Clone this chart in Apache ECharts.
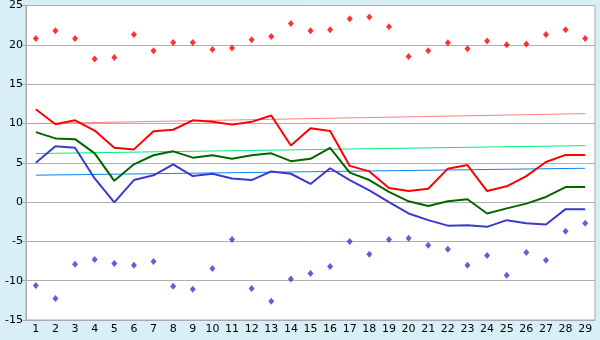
<!DOCTYPE html>
<html>
<head>
<meta charset="utf-8">
<script src="https://cdn.jsdelivr.net/npm/echarts@6/dist/echarts.min.js"></script>
<style>
  html, body { margin: 0; padding: 0; background: #d9eff7; }
  #chart { width: 600px; height: 340px; }
</style>
</head>
<body>
<div id="chart"></div>
<script>
const categories = ['1', '2', '3', '4', '5', '6', '7', '8', '9', '10', '11', '12', '13', '14', '15',
  '16', '17', '18', '19', '20', '21', '22', '23', '24', '25', '26', '27', '28', '29']

const redLine = [11.8, 9.9, 10.4, 9.1, 6.9, 6.7, 9.0, 9.2, 10.4, 10.2, 9.85, 10.2, 11.0, 7.2, 9.4,
  9.05, 4.6, 3.9, 1.8, 1.4, 1.7, 4.25, 4.7, 1.4, 2.0, 3.3, 5.1, 6.0, 6.0]
const greenLine = [8.9, 8.1, 8.0, 6.2, 2.7, 4.8, 5.95, 6.45, 5.65, 5.95, 5.5, 5.95, 6.2, 5.2, 5.5,
  6.9, 3.75, 2.8, 1.3, 0.1, -0.5, 0.1, 0.35, -1.45, -0.8, -0.2, 0.65, 1.9, 1.9]
const blueLine = [5.0, 7.1, 6.9, 3.0, -0.05, 2.8, 3.4, 4.8, 3.3, 3.6, 3.0, 2.8, 3.9, 3.6, 2.3,
  4.3, 2.8, 1.5, 0.0, -1.45, -2.3, -3.0, -2.95, -3.15, -2.3, -2.7, -2.85, -0.9, -0.9]

const highPoints = [20.8, 21.8, 20.8, 18.2, 18.4, 21.3, 19.25, 20.3, 20.3, 19.4, 19.6, 20.65, 21.05, 22.7, 21.8,
  21.9, 23.3, 23.55, 22.3, 18.5, 19.25, 20.25, 19.5, 20.5, 20.0, 20.1, 21.3, 21.9, 20.8]
const lowPoints = [-10.6, -12.25, -7.9, -7.3, -7.8, -8.05, -7.55, -10.7, -11.1, -8.45, -4.75, -11.0, -12.6, -9.8, -9.1,
  -8.2, -5.0, -6.65, -4.75, -4.6, -5.5, -6.0, -8.05, -6.8, -9.3, -6.4, -7.4, -3.7, -2.7]

// thin trend lines: value at first and last category
const redTrend = [9.98, 11.25]
const greenTrend = [6.17, 7.18]
const blueTrend = [3.42, 4.3]

const yMin = -15
const yMax = 25
const yStep = 5

function trendData(ends) {
  return [[0, ends[0]], [categories.length - 1, ends[1]]]
}

const chart = echarts.init(document.getElementById('chart'))

chart.setOption({
  animation: false,
  backgroundColor: '#d9eff7',
  grid: {
    left: 26,
    right: 5,
    top: 5,
    bottom: 20,
    show: true,
    backgroundColor: '#ffffff',
    borderColor: '#aaaaaa',
    borderWidth: 1
  },
  xAxis: {
    type: 'category',
    data: categories,
    boundaryGap: true,
    axisLine: { onZero: false, lineStyle: { color: '#aaaaaa' } },
    axisTick: { alignWithLabel: true, length: 5, lineStyle: { color: '#888888' } },
    axisLabel: {
      color: '#000000',
      fontFamily: 'DejaVu Sans',
      fontSize: 11,
      margin: 4,
      interval: 0
    },
    splitLine: { show: false }
  },
  yAxis: {
    type: 'value',
    min: yMin,
    max: yMax,
    interval: yStep,
    axisLine: { show: true, lineStyle: { color: '#aaaaaa' } },
    axisTick: { show: true, length: 5, lineStyle: { color: '#aaaaaa' } },
    axisLabel: {
      color: '#000000',
      fontFamily: 'DejaVu Sans',
      fontSize: 11,
      margin: 3
    },
    splitLine: { lineStyle: { color: '#b0b0b0' } }
  },
  series: [
    {
      type: 'line',
      data: trendData(redTrend),
      showSymbol: false,
      lineStyle: { color: '#ff8080', width: 1 },
      z: 1
    },
    {
      type: 'line',
      data: trendData(greenTrend),
      showSymbol: false,
      lineStyle: { color: '#00f07c', width: 1 },
      z: 1
    },
    {
      type: 'line',
      data: trendData(blueTrend),
      showSymbol: false,
      lineStyle: { color: '#0a84f0', width: 1 },
      z: 1
    },
    {
      type: 'line',
      data: redLine,
      showSymbol: false,
      lineStyle: { color: '#ff0000', width: 2 },
      z: 3
    },
    {
      type: 'line',
      data: greenLine,
      showSymbol: false,
      lineStyle: { color: '#006600', width: 2 },
      z: 3
    },
    {
      type: 'line',
      data: blueLine,
      showSymbol: false,
      lineStyle: { color: '#3a3acc', width: 2 },
      z: 3
    },
    {
      type: 'scatter',
      data: highPoints,
      symbol: 'diamond',
      symbolSize: [6, 7],
      itemStyle: { color: '#ff0000' },
      z: 4
    },
    {
      type: 'scatter',
      data: lowPoints,
      symbol: 'diamond',
      symbolSize: [6, 7],
      itemStyle: { color: '#3a3acc' },
      z: 4
    }
  ]
})
</script>
</body>
</html>
